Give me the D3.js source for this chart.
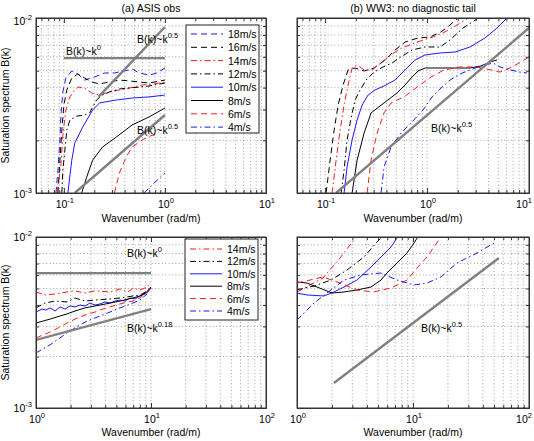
<!DOCTYPE html>
<html><head><meta charset="utf-8">
<script src="https://cdn.jsdelivr.net/npm/d3@7"></script>
<style>
body{margin:0;background:#fff}
text{font-family:"Liberation Sans",Arial,Helvetica,sans-serif;fill:#000}
</style>
</head><body>
<svg id="chart" width="534" height="441"></svg>
<script>
// ================= DATA =================
// x tick values
const xMajorTop = [0.1, 1, 10];
const xMinorTop = [0.06,0.07,0.08,0.09,0.2,0.3,0.4,0.5,0.6,0.7,0.8,0.9,2,3,4,5,6,7,8,9];
const xMajorBot = [1, 10, 100];
const xMinorBot = [2,3,4,5,6,7,8,9,20,30,40,50,60,70,80,90];
const yMajor = [1e-3, 1e-2];
const yMinor = [2e-3,3e-3,4e-3,5e-3,6e-3,7e-3,8e-3,9e-3];
const xTickLabelsTop = [["10","-1"],["10","0"],["10","1"]];
const xTickLabelsBot = [["10","0"],["10","1"],["10","2"]];
const yTickLabels = [["10","-3"],["10","-2"]];

const legendA = ["18m/s","16m/s","14m/s","12m/s","10m/s","8m/s","6m/s","4m/s"];
const legendC = ["14m/s","12m/s","10m/s","8m/s","6m/s","4m/s"];

// (a) ASIS obs  [k (rad/m), B]
const asis18 = [[0.0835,1.00e-3],[0.0874,1.35e-3],[0.0914,2.01e-3],[0.0935,2.79e-3],[0.0977,3.78e-3],[0.1047,4.54e-3],[0.1198,4.98e-3],[0.1372,4.79e-3],[0.1606,4.42e-3],[0.2014,4.60e-3],[0.2524,4.85e-3],[0.3162,4.85e-3],[0.3963,4.98e-3],[0.4746,5.11e-3],[0.5557,4.85e-3],[0.6969,4.72e-3],[0.8348,4.85e-3],[1.0,5.18e-3]];
const asis16 = [[0.0874,1.00e-3],[0.0914,1.54e-3],[0.0955,2.29e-3],[0.1,3.18e-3],[0.107,3.88e-3],[0.1198,4.54e-3],[0.1372,4.79e-3],[0.1606,4.54e-3],[0.1882,4.31e-3],[0.2255,4.20e-3],[0.2825,4.31e-3],[0.354,4.42e-3],[0.4436,4.37e-3],[0.5557,4.31e-3],[0.6969,4.25e-3],[1.0,4.42e-3]];
const asis14 = [[0.0853,1.00e-3],[0.0935,1.45e-3],[0.0977,2.14e-3],[0.1047,2.98e-3],[0.1146,3.54e-3],[0.1282,3.88e-3],[0.1372,4.03e-3],[0.1606,3.98e-3],[0.1882,3.73e-3],[0.2255,3.63e-3],[0.2825,3.78e-3],[0.354,3.88e-3],[0.4436,3.98e-3],[0.5955,4.14e-3],[0.7799,4.20e-3],[1.0,4.31e-3]];
const asis12 = [[0.0955,1.00e-3],[0.0977,1.35e-3],[0.1023,1.76e-3],[0.107,2.29e-3],[0.1146,2.61e-3],[0.1341,2.75e-3],[0.1606,2.79e-3],[0.1798,2.87e-3],[0.2107,3.40e-3],[0.2413,3.63e-3],[0.2825,3.78e-3],[0.354,3.93e-3],[0.4436,3.98e-3],[0.5557,4.03e-3],[0.6969,4.09e-3],[1.0,4.25e-3]];
const asis10 = [[0.1095,1.00e-3],[0.1198,1.54e-3],[0.1282,1.93e-3],[0.1535,2.38e-3],[0.1925,2.98e-3],[0.2255,3.27e-3],[0.3308,3.40e-3],[0.4746,3.49e-3],[0.6969,3.54e-3],[1.0,3.63e-3]];
const asis8 = [[0.1501,1.00e-3],[0.168,1.23e-3],[0.1925,1.54e-3],[0.2413,1.83e-3],[0.3308,2.09e-3],[0.4746,2.45e-3],[0.6969,2.72e-3],[1.0,3.06e-3]];
const asis6 = [[0.3162,1.00e-3],[0.354,1.30e-3],[0.4146,1.61e-3],[0.4746,1.83e-3],[0.5955,2.01e-3],[0.7457,2.14e-3],[0.8732,2.23e-3]];
const asis4 = [[0.6227,1.00e-3],[0.7799,1.14e-3],[1.0,1.30e-3]];
const refA_k0 = [[0.1,5.9e-3],[1,5.9e-3]];
const refA_hi = [[0.22,3.54e-3],[1,8.88e-3]];
const refA_lo = [[0.1282,1.0e-3],[1,2.79e-3]];

// (b) WW3 no diagnostic tail
const ww16 = [[0.1023,1.00e-3],[0.112,1.54e-3],[0.1226,2.29e-3],[0.1341,3.18e-3],[0.1501,4.14e-3],[0.168,5.05e-3],[0.1968,5.18e-3],[0.2413,4.98e-3],[0.3023,5.18e-3],[0.3877,5.75e-3],[0.4853,6.56e-3],[0.609,7.29e-3],[0.8162,7.69e-3],[1.07,7.79e-3],[1.371,8.32e-3],[1.68,9.12e-3],[2.014,10.0e-3]];
const ww14 = [[0.1172,1.00e-3],[0.1282,1.54e-3],[0.1403,2.29e-3],[0.1535,3.18e-3],[0.168,4.14e-3],[0.184,5.18e-3],[0.2059,5.39e-3],[0.2413,5.05e-3],[0.289,5.05e-3],[0.3622,5.61e-3],[0.4538,6.23e-3],[0.5686,6.74e-3],[0.798,7.29e-3],[1.145,7.79e-3],[1.435,8.21e-3],[1.968,9.12e-3],[2.467,9.87e-3]];
const ww12 = [[0.1435,1.00e-3],[0.1535,1.35e-3],[0.1643,2.01e-3],[0.1798,2.68e-3],[0.1968,3.40e-3],[0.2204,3.88e-3],[0.2524,4.42e-3],[0.3023,4.91e-3],[0.3704,5.25e-3],[0.4538,5.53e-3],[0.5686,6.06e-3],[0.7129,6.56e-3],[0.9558,6.83e-3],[1.341,6.83e-3],[1.68,7.49e-3],[2.254,8.77e-3],[3.09,9.87e-3]];
const ww10 = [[0.1535,1.00e-3],[0.1643,1.41e-3],[0.184,2.01e-3],[0.2059,2.61e-3],[0.2306,3.18e-3],[0.2641,3.63e-3],[0.309,3.88e-3],[0.3788,4.09e-3],[0.4853,4.42e-3],[0.609,5.05e-3],[0.7627,5.75e-3],[0.9558,6.15e-3],[1.341,6.31e-3],[1.882,6.39e-3],[2.64,6.83e-3],[3.704,7.69e-3],[4.856,8.77e-3],[5.951,9.87e-3]];
const ww8 = [[0.184,1.00e-3],[0.2059,1.54e-3],[0.2413,2.20e-3],[0.2825,2.87e-3],[0.3788,3.27e-3],[0.5078,3.73e-3],[0.609,4.14e-3],[0.6969,4.54e-3],[0.8162,4.98e-3],[0.9558,5.18e-3],[1.341,5.18e-3],[1.882,5.18e-3],[2.64,5.18e-3],[3.381,5.32e-3],[4.146,5.61e-3],[4.856,5.75e-3]];
const ww6 = [[0.2582,1.00e-3],[0.2825,1.54e-3],[0.3235,2.20e-3],[0.3788,2.87e-3],[0.4436,3.27e-3],[0.5955,3.54e-3],[0.798,4.03e-3],[1.095,4.60e-3],[1.468,5.05e-3],[2.107,5.25e-3],[3.09,5.25e-3],[4.24,5.05e-3],[5.198,4.91e-3],[6.513,5.18e-3],[8.35,5.61e-3],[10.0,5.99e-3]];
const ww4 = [[0.354,1.00e-3],[0.3788,1.41e-3],[0.4436,1.83e-3],[0.5557,2.20e-3],[0.7129,2.55e-3],[0.9135,2.98e-3],[1.12,3.54e-3],[1.371,3.98e-3],[1.68,4.42e-3],[2.107,4.79e-3],[2.64,5.05e-3],[3.381,5.32e-3],[4.436,5.53e-3],[5.198,5.25e-3],[6.513,5.05e-3],[8.16,4.91e-3],[9.557,4.85e-3]];
const refB = [[0.128,1.0e-3],[10,8.77e-3]];

// (c) ASIS obs, high wavenumber
const hf14 = [[1.0,4.77e-3],[1.198,4.58e-3],[1.463,4.64e-3],[1.861,4.77e-3],[2.184,4.84e-3],[2.668,4.70e-3],[3.259,4.84e-3],[4.401,4.77e-3],[5.376,4.97e-3],[6.31,4.77e-3],[6.973,5.03e-3],[8.025,4.90e-3],[9.23,5.10e-3],[10,5.46e-3]];
const hf12 = [[1.0,3.85e-3],[1.198,4.11e-3],[1.463,4.22e-3],[1.861,4.17e-3],[2.184,4.40e-3],[2.668,4.22e-3],[3.259,4.28e-3],[4.401,4.34e-3],[5.376,4.40e-3],[6.973,4.52e-3],[8.025,4.58e-3],[9.23,4.83e-3],[10,5.10e-3]];
const hf10 = [[1.0,3.64e-3],[1.128,3.79e-3],[1.222,3.74e-3],[1.324,3.85e-3],[1.463,3.69e-3],[1.617,3.90e-3],[1.787,3.79e-3],[1.975,3.95e-3],[2.184,3.90e-3],[2.413,4.00e-3],[2.668,3.95e-3],[2.949,4.11e-3],[3.259,4.00e-3],[3.602,4.06e-3],[3.981,4.17e-3],[4.401,4.11e-3],[4.864,4.22e-3],[5.376,4.28e-3],[5.941,4.22e-3],[6.568,4.40e-3],[7.259,4.34e-3],[8.025,4.52e-3],[8.868,4.64e-3],[9.417,4.77e-3],[10,5.03e-3]];
const hf8 = [[1.0,3.14e-3],[1.324,3.31e-3],[1.617,3.45e-3],[1.861,3.55e-3],[2.184,3.69e-3],[2.668,3.85e-3],[3.259,3.95e-3],[3.602,4.00e-3],[4.401,4.11e-3],[5.376,4.22e-3],[6.31,4.34e-3],[6.973,4.40e-3],[8.025,4.52e-3],[9.23,4.77e-3],[10,5.10e-3]];
const hf6 = [[1.0,2.57e-3],[1.324,2.78e-3],[1.617,2.98e-3],[1.861,3.14e-3],[2.184,3.31e-3],[2.668,3.50e-3],[3.259,3.64e-3],[3.602,3.74e-3],[4.401,3.90e-3],[5.376,4.06e-3],[6.31,4.17e-3],[6.973,4.22e-3],[8.025,4.40e-3],[9.23,4.77e-3],[10,5.24e-3]];
const hf4 = [[1.0,2.10e-3],[1.324,2.34e-3],[1.617,2.57e-3],[1.861,2.75e-3],[2.184,2.94e-3],[2.668,3.18e-3],[3.259,3.36e-3],[3.602,3.45e-3],[4.401,3.64e-3],[5.376,3.85e-3],[6.31,4.00e-3],[6.973,4.11e-3],[8.025,4.28e-3],[9.23,4.64e-3]];
const refC_k0 = [[1,6.15e-3],[10,6.15e-3]];
const refC_k018 = [[1,2.5e-3],[10,3.79e-3]];

// (d) WW3 high wavenumber
const md14 = [[1.0,4.77e-3],[1.294,5.24e-3],[1.675,5.76e-3],[2.348,7.54e-3],[2.863,8.98e-3],[3.29,10.0e-3]];
const md12 = [[1.0,4.90e-3],[1.401,5.17e-3],[1.964,5.60e-3],[2.698,6.41e-3],[3.781,7.64e-3],[4.894,9.35e-3],[5.623,10.27e-3]];
const md10 = [[1.0,4.70e-3],[1.219,4.58e-3],[1.709,4.52e-3],[2.084,4.77e-3],[2.542,5.10e-3],[3.29,5.60e-3],[4.345,6.68e-3],[5.299,7.64e-3],[6.46,8.74e-3],[7.574,10.27e-3]];
const md8 = [[1.0,5.46e-3],[1.219,5.38e-3],[1.487,5.10e-3],[2.003,4.70e-3],[2.542,4.77e-3],[3.29,4.90e-3],[4.345,5.10e-3],[5.299,5.60e-3],[5.968,6.16e-3],[7.279,7.05e-3],[8.877,8.06e-3],[10.2,9.22e-3],[11.27,10.27e-3]];
const md6 = [[1.0,5.38e-3],[1.294,5.60e-3],[1.675,5.84e-3],[2.348,5.38e-3],[3.29,4.90e-3],[4.521,4.77e-3],[6.46,5.03e-3],[8.877,5.60e-3],[10.83,6.59e-3],[13.2,7.64e-3],[15.17,8.74e-3],[17.43,10.0e-3]];
const md4 = [[1.0,3.27e-3],[1.401,4.11e-3],[1.964,4.90e-3],[2.542,5.60e-3],[3.563,6.00e-3],[5.299,6.16e-3],[7.279,5.60e-3],[10.2,5.24e-3],[13.2,5.38e-3],[17.43,5.84e-3],[23.95,7.05e-3],[35.63,8.06e-3],[49.9,9.22e-3]];
const refD = [[2.08,1.4e-3],[55,7.53e-3]];

// ================= STYLES =================
const BLUE = "#1a1aff", RED = "#ff1a1a", BLACK = "#000";
const DASH = "6,4", DASHDOT = "6,3,1.5,3";
const style = {
  "18m/s": {c: BLUE,  d: DASH},
  "16m/s": {c: BLACK, d: DASH},
  "14m/s": {c: RED,   d: DASHDOT},
  "12m/s": {c: BLACK, d: DASHDOT},
  "10m/s": {c: BLUE,  d: null},
  "8m/s":  {c: BLACK, d: null},
  "6m/s":  {c: RED,   d: DASH},
  "4m/s":  {c: BLUE,  d: DASHDOT}
};
const GRAY = "#808080";

const svg = d3.select("#chart");
const defs = svg.append("defs");

function supLabel(sel, base, exp, fs) {
  sel.append("tspan").text(base);
  sel.append("tspan").attr("dy", -5).attr("font-size", fs * 0.72).text(exp);
}

function drawPanel(cfg) {
  const {x0, x1, y0, y1} = cfg.box;
  const w = x1 - x0, h = y1 - y0;
  const x = d3.scaleLog().domain(cfg.xDomain).range([0, w]);
  const y = d3.scaleLog().domain([1e-3, 1e-2]).range([h, 0]);
  const g = svg.append("g").attr("transform", `translate(${x0},${y0})`);
  const clipId = "clip-" + cfg.name;
  defs.append("clipPath").attr("id", clipId).append("rect").attr("width", w).attr("height", h);

  g.append("rect").attr("width", w).attr("height", h).attr("fill", "#fff");

  // grid (dotted, major + minor)
  const [d0, d1] = cfg.xDomain;
  const gxv = cfg.xMajor.concat(cfg.xMinor).filter(v => v > d0 * 1.0001 && v < d1 * 0.9999);
  const gyv = yMajor.concat(yMinor).filter(v => v > 1e-3 * 1.0001 && v < 1e-2 * 0.9999);
  const grid = g.append("g").attr("stroke", "#7a7a7a").attr("stroke-width", 0.7).attr("stroke-dasharray", "1,2.4");
  grid.selectAll(".gx").data(gxv).join("line")
    .attr("x1", d => x(d)).attr("x2", d => x(d)).attr("y1", 0).attr("y2", h);
  grid.selectAll(".gy").data(gyv).join("line")
    .attr("y1", d => y(d)).attr("y2", d => y(d)).attr("x1", 0).attr("x2", w);

  const line = d3.line().x(d => x(d[0])).y(d => y(d[1]));
  const plot = g.append("g").attr("clip-path", `url(#${clipId})`);

  // series
  cfg.series.forEach(s => {
    const st = style[s.label];
    plot.append("path").datum(s.data).attr("d", line)
      .attr("fill", "none").attr("stroke", st.c).attr("stroke-width", 1)
      .attr("stroke-dasharray", st.d);
  });
  // reference lines (gray)
  cfg.refs.forEach(r => {
    plot.append("path").datum(r).attr("d", line)
      .attr("fill", "none").attr("stroke", GRAY).attr("stroke-width", 2.4);
  });

  // axes (ticks inward on all four sides)
  const axCol = "#333";
  const mk = (sel) => sel.attr("color", axCol).call(s => s.selectAll("text").remove());
  g.append("g").attr("transform", `translate(0,${h})`)
    .call(d3.axisBottom(x).tickValues(cfg.xMajor).tickSize(-5).tickSizeOuter(0)).call(mk);
  g.append("g").attr("transform", `translate(0,${h})`)
    .call(d3.axisBottom(x).tickValues(cfg.xMinor).tickSize(-3).tickSizeOuter(0)).call(mk);
  g.append("g")
    .call(d3.axisTop(x).tickValues(cfg.xMajor).tickSize(-5).tickSizeOuter(0)).call(mk);
  g.append("g")
    .call(d3.axisTop(x).tickValues(cfg.xMinor).tickSize(-3).tickSizeOuter(0)).call(mk);
  g.append("g")
    .call(d3.axisLeft(y).tickValues(yMajor).tickSize(-5).tickSizeOuter(0)).call(mk);
  g.append("g")
    .call(d3.axisLeft(y).tickValues(yMinor).tickSize(-3).tickSizeOuter(0)).call(mk);
  g.append("g").attr("transform", `translate(${w},0)`)
    .call(d3.axisRight(y).tickValues(yMajor).tickSize(-5).tickSizeOuter(0)).call(mk);
  g.append("g").attr("transform", `translate(${w},0)`)
    .call(d3.axisRight(y).tickValues(yMinor).tickSize(-3).tickSizeOuter(0)).call(mk);
  g.append("rect").attr("width", w).attr("height", h).attr("fill", "none")
    .attr("stroke", axCol).attr("stroke-width", 1);

  // tick labels
  const fs = 10.5;
  cfg.xMajor.forEach((v, i) => {
    let cx = x(v) + 1;
    if (x0 + cx + 9 > 533) cx = 533 - 9 - x0;
    const t = g.append("text").attr("x", cx).attr("y", h + 15)
      .attr("text-anchor", "middle").attr("font-size", fs);
    supLabel(t, cfg.xLabels[i][0], cfg.xLabels[i][1], fs);
  });
  if (cfg.yLabels) {
    yMajor.forEach((v, i) => {
      const t = g.append("text").attr("x", -4).attr("y", y(v) + cfg.yLabelDy[i])
        .attr("text-anchor", "end").attr("font-size", fs);
      supLabel(t, yTickLabels[i][0], yTickLabels[i][1], fs);
    });
    g.append("text").attr("transform", `translate(${-27},${h / 2}) rotate(-90)`)
      .attr("text-anchor", "middle").attr("font-size", 10.5).text("Saturation spectrum B(k)");
  }
  g.append("text").attr("x", w / 2).attr("y", h + cfg.xTitleDy).attr("text-anchor", "middle")
    .attr("font-size", 10.5).text("Wavenumber (rad/m)");
  if (cfg.title) {
    g.append("text").attr("x", w / 2).attr("y", -6).attr("text-anchor", "middle")
      .attr("font-size", 10.5).text(cfg.title);
  }
  // annotations
  cfg.notes.forEach(n => {
    const t = g.append("text").attr("x", n.x - x0).attr("y", n.y - y0).attr("font-size", 10.5);
    supLabel(t, "B(k)~k", n.exp, 10.5);
  });
  // legend
  if (cfg.legend) {
    const L = cfg.legend;
    const lg = svg.append("g");
    lg.append("rect").attr("x", L.x).attr("y", L.y).attr("width", L.w).attr("height", L.h)
      .attr("fill", "#fff").attr("stroke", "#222").attr("stroke-width", 1);
    L.items.forEach((lab, i) => {
      const cy = L.first + i * L.step;
      const st = style[lab];
      lg.append("line").attr("x1", L.x + 5).attr("x2", L.x + 37).attr("y1", cy).attr("y2", cy)
        .attr("stroke", st.c).attr("stroke-width", 1).attr("stroke-dasharray", st.d);
      lg.append("text").attr("x", L.x + 42).attr("y", cy + 4).attr("font-size", 10.5).text(lab);
    });
  }
}

drawPanel({
  name: "a", box: {x0: 36, x1: 266, y0: 18, y1: 193}, xDomain: [0.053, 10],
  xMajor: xMajorTop, xMinor: xMinorTop, xLabels: xTickLabelsTop,
  yLabels: true, yLabelDy: [5, 7], xTitleDy: 29, title: "(a) ASIS obs",
  series: [
    {label: "18m/s", data: asis18}, {label: "16m/s", data: asis16},
    {label: "14m/s", data: asis14}, {label: "12m/s", data: asis12},
    {label: "10m/s", data: asis10}, {label: "8m/s", data: asis8},
    {label: "6m/s", data: asis6}, {label: "4m/s", data: asis4}],
  refs: [refA_k0, refA_hi, refA_lo],
  notes: [{x: 66, y: 55, exp: "0"}, {x: 137, y: 43, exp: "0.5"}, {x: 137, y: 134, exp: "0.5"}],
  legend: {x: 186, y: 25, w: 73, h: 108, first: 34, step: 13.3, items: legendA}
});
drawPanel({
  name: "b", box: {x0: 297, x1: 529, y0: 18, y1: 193}, xDomain: [0.053, 10],
  xMajor: xMajorTop, xMinor: xMinorTop, xLabels: xTickLabelsTop,
  yLabels: false, xTitleDy: 29, title: "(b) WW3: no diagnostic tail",
  series: [
    {label: "16m/s", data: ww16}, {label: "14m/s", data: ww14},
    {label: "12m/s", data: ww12}, {label: "10m/s", data: ww10},
    {label: "8m/s", data: ww8}, {label: "6m/s", data: ww6}, {label: "4m/s", data: ww4}],
  refs: [refB],
  notes: [{x: 431, y: 132, exp: "0.5"}]
});
drawPanel({
  name: "c", box: {x0: 36, x1: 266, y0: 237, y1: 408}, xDomain: [1, 100],
  xMajor: xMajorBot, xMinor: xMinorBot, xLabels: xTickLabelsBot,
  yLabels: true, yLabelDy: [4, 4], xTitleDy: 28,
  series: [
    {label: "14m/s", data: hf14}, {label: "12m/s", data: hf12},
    {label: "10m/s", data: hf10}, {label: "8m/s", data: hf8},
    {label: "6m/s", data: hf6}, {label: "4m/s", data: hf4}],
  refs: [refC_k0, refC_k018],
  notes: [{x: 127, y: 257, exp: "0"}, {x: 127, y: 332, exp: "0.18"}],
  legend: {x: 185, y: 239, w: 73, h: 81, first: 249, step: 12.4, items: legendC}
});
drawPanel({
  name: "d", box: {x0: 297, x1: 529, y0: 237, y1: 408}, xDomain: [1, 100],
  xMajor: xMajorBot, xMinor: xMinorBot, xLabels: xTickLabelsBot,
  yLabels: false, xTitleDy: 28,
  series: [
    {label: "14m/s", data: md14}, {label: "12m/s", data: md12},
    {label: "10m/s", data: md10}, {label: "8m/s", data: md8},
    {label: "6m/s", data: md6}, {label: "4m/s", data: md4}],
  refs: [refD],
  notes: [{x: 421, y: 332, exp: "0.5"}]
});
</script>
</body></html>
